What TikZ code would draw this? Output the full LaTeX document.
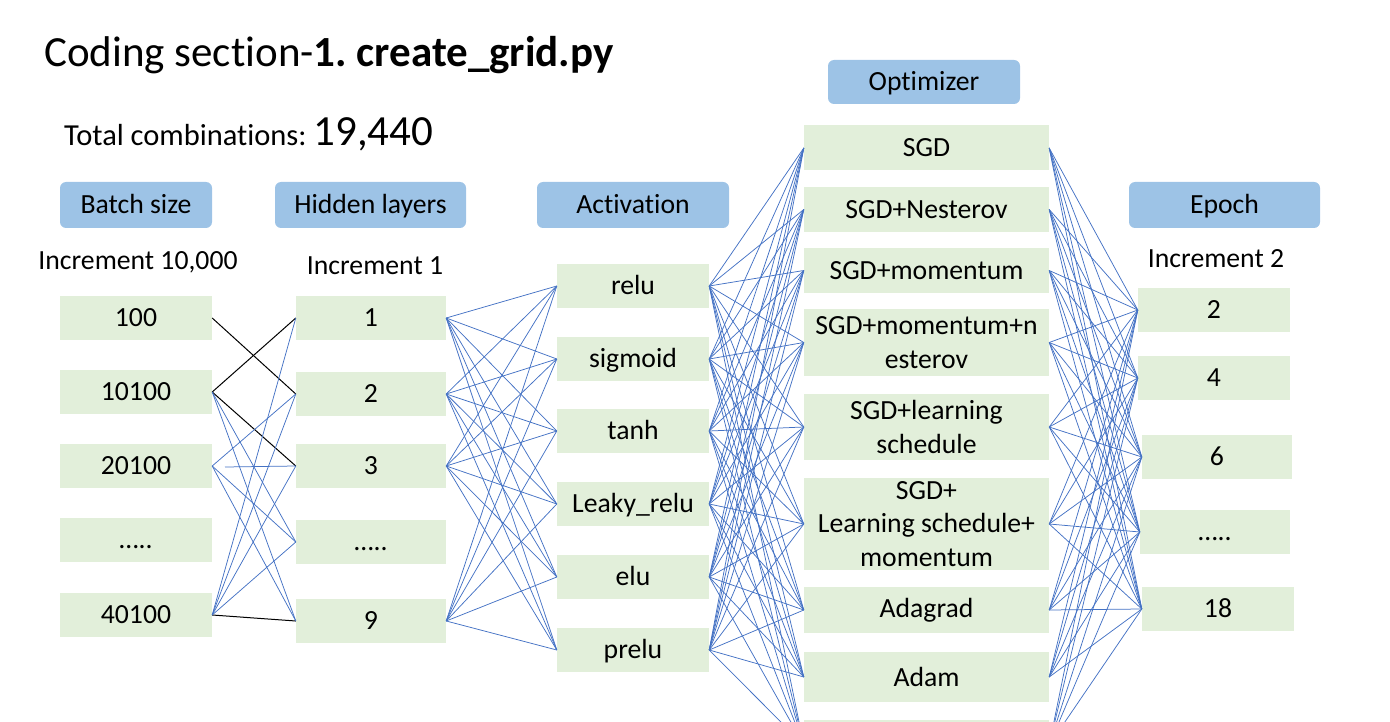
\documentclass[tikz,border=0pt]{standalone}
\usepackage{fontspec}
\setmainfont{Carlito}[Ligatures=CommonOff]
\definecolor{hblue}{HTML}{9DC3E6}
\definecolor{gbox}{HTML}{E2EFDA}
\definecolor{lblue}{HTML}{4472C4}
\frenchspacing
\begin{document}
\begin{tikzpicture}[x=1pt,y=-1pt,
 bfont/.style={font=\fontsize{27.7}{33.5}\selectfont},
 hdr/.style={bfont, fill=hblue, rounded corners=6pt, minimum height=46pt, inner sep=0pt, text height=17.8pt, text depth=0pt},
 gb/.style={bfont, fill=gbox, minimum width=152pt, minimum height=44pt, inner sep=0pt, text height=17.8pt, text depth=0pt},
 ob/.style={bfont, fill=gbox, minimum width=245pt, inner sep=0pt, align=center},
 lbl/.style={bfont, inner sep=0pt, text height=17.8pt, text depth=0pt},
 bl/.style={draw=lblue, line width=0.75pt},
 bk/.style={draw=black, line width=1pt}]
\path[use as bounding box] (0,0) rectangle (1390,722);
\clip (0,0) rectangle (1390,722);

% titles
\node[anchor=base west, inner sep=0pt, font=\fontsize{43}{50}\selectfont] (title) at (44,67) {Coding section-\textbf{1.\ create\_grid.py}};
\node[anchor=base west, inner sep=0pt] (total) at (64,146) {\fontsize{30.5}{36}\selectfont Total combinations: \fontsize{43}{48}\selectfont 19,440};

% headers
\node[hdr, minimum width=152pt] (hb) at (136,205) {Batch size};
\node[hdr, minimum width=191pt] (hh) at (370.5,205) {Hidden layers};
\node[hdr, minimum width=192pt] (ha) at (633,205) {Activation};
\node[hdr, minimum width=192pt, minimum height=44pt] (ho) at (924,82) {Optimizer};
\node[hdr, minimum width=191pt] (he) at (1224.5,205) {Epoch};

% increment labels
\node[lbl] (ib) at (138,261) {Increment 10,000};
\node[lbl] (ih) at (375,266) {Increment 1};
\node[lbl] (ie) at (1216,259) {Increment 2};

% batch size
\node[gb] (b1) at (136,318) {100};
\node[gb] (b2) at (136,392) {10100};
\node[gb] (b3) at (136,466) {20100};
\node[gb] (b4) at (136,540) {…..};
\node[gb] (b5) at (136,615) {40100};

% hidden layers
\node[gb, minimum width=150pt] (h1) at (371,318) {1};
\node[gb, minimum width=150pt] (h2) at (371,394) {2};
\node[gb, minimum width=150pt] (h3) at (371,466) {3};
\node[gb, minimum width=150pt] (h4) at (371,542) {…..};
\node[gb, minimum width=150pt] (h5) at (371,621) {9};

% activation
\node[gb] (a1) at (633,286) {relu};
\node[gb] (a2) at (633,359) {sigmoid};
\node[gb] (a3) at (633,431) {tanh};
\node[gb] (a4) at (633,504) {Leaky\_relu};
\node[gb] (a5) at (633,577) {elu};
\node[gb] (a6) at (633,650) {prelu};

% optimizer
\node[ob, minimum height=45pt] (o1) at (926.5,148) {SGD};
\node[ob, minimum height=45pt] (o2) at (926.5,209.5) {SGD+Nesterov};
\node[ob, minimum height=45pt] (o3) at (926.5,270.5) {SGD+momentum};
\node[ob, minimum height=67pt] (o4) at (926.5,342.5) {SGD+momentum+n\\esterov};
\node[ob, minimum height=66pt] (o5) at (926.5,427) {SGD+learning\\schedule};
\node[ob, minimum height=92pt] (o6) at (926.5,524) {SGD+\\Learning schedule+\\momentum};
\node[ob, minimum height=46pt] (o7) at (926.5,610) {Adagrad};
\node[ob, minimum height=50pt] (o8) at (926.5,677) {Adam};
\node[ob, minimum height=50pt] (o9) at (926.5,745) {};

% epoch
\node[gb] (e1) at (1214,310) {2};
\node[gb] (e2) at (1214,378) {4};
\node[gb, minimum width=150pt] (e3) at (1217,457) {6};
\node[gb, minimum width=150pt] (e4) at (1215,532) {…..};
\node[gb] (e5) at (1218,609) {18};

% batch -> hidden
\draw[bk] (b1.east) -- (h2.west);
\draw[bk] (b2.east) -- (h1.west);
\draw[bk] (b2.east) -- (h3.west);
\draw[bk] (b5.east) -- (h5.west);
\foreach \s/\t in {b2/h4, b2/h5, b3/h2, b3/h4, b3/h5, b5/h1, b5/h2, b5/h3, b5/h4}
  \draw[bl] (\s.east) -- (\t.west);
\coordinate (s3) at (225,467);
\draw[bl] (s3) -- (h3.west);

% hidden -> activation
\foreach \s in {h1,h2,h3,h5}
  \foreach \t in {a1,a2,a3,a4,a5,a6}
    \draw[bl] (\s.east) -- (\t.west);

% activation -> optimizer
\foreach \s in {a1,a2,a3,a4,a5,a6}
  \foreach \t in {o1,o2,o3,o4,o5,o6,o7,o8,o9}
    \draw[bl] (\s.east) -- (\t.west);

% optimizer -> epoch
\foreach \s in {o1,o2,o3,o4,o5,o6,o7,o8,o9}
  \foreach \t in {e1,e2,e3,e4,e5}
    \draw[bl] (\s.east) -- (\t.west);
\end{tikzpicture}
\end{document}
